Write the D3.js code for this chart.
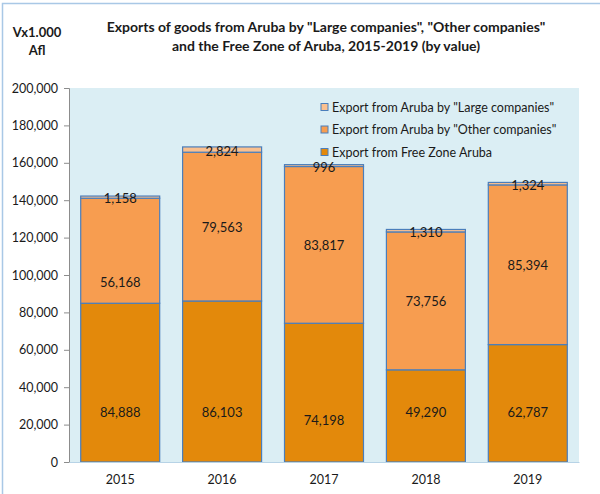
<!DOCTYPE html>
<html>
<head>
<meta charset="utf-8">
<script src="https://cdn.jsdelivr.net/npm/d3@7"></script>
<style>
  body { margin: 0; background: #fff; }
  svg { display: block; font-family: Lato, "Open Sans", sans-serif; }
</style>
</head>
<body>
<svg id="chart" width="600" height="494"></svg>
<script>
	// values in Afl x 1.000
	var years = ['2015', '2016', '2017', '2018', '2019'];
	var freeZone = [84888, 86103, 74198, 49290, 62787];
	var otherCompanies = [56168, 79563, 83817, 73756, 85394];
	var largeCompanies = [1158, 2824, 996, 1310, 1324];
	var yTicks = [0, 20000, 40000, 60000, 80000, 100000, 120000, 140000, 160000, 180000, 200000];

	var seriesNames = ['Export from Free Zone Aruba', 'Export from Aruba by "Other companies"', 'Export from Aruba by "Large companies"'];
	var colors = ['#e3890b', '#f79d50', '#fac08f'];

	// labels were hand placed in the original (value level where the text sits)
	var freeZoneLabelAt = [27000, 27000, 22500, 27000, 27000];
	var otherLabelAt = [96000, null, null, null, null];

	var svg = d3.select('#chart');
	var fmt = d3.format(',');

	var plot = { left: 69, right: 579, top: 88, bottom: 462 };

	// outer frame
	svg.append('rect')
		.attr('x', 2.5).attr('y', 3.5)
		.attr('width', 610).attr('height', 510)
		.attr('fill', 'none')
		.attr('stroke', '#a9c8e6')
		.attr('stroke-width', 1.5);

	svg.append('rect')
		.attr('x', plot.left).attr('y', plot.top)
		.attr('width', plot.right - plot.left).attr('height', plot.bottom - plot.top)
		.attr('fill', '#dbeef4');

	var x = d3.scaleBand()
		.domain(years)
		.range([plot.left, plot.right])
		.paddingInner(0.215)
		.paddingOuter(0.11);

	var y = d3.scaleLinear()
		.domain([0, 200000])
		.range([plot.bottom, plot.top]);

	var rows = years.map(function(yr, i){
		return { year: yr, fz: freeZone[i], other: otherCompanies[i], large: largeCompanies[i], i: i };
	});

	var stack = d3.stack().keys(['fz', 'other', 'large']);
	var layers = stack(rows);

	var g = svg.append('g');
	layers.forEach(function(layer, k){
		g.selectAll('rect.s' + k)
			.data(layer)
			.enter()
			.append('rect')
				.attr('x', (d) => x(d.data.year) + 0.5)
				.attr('y', (d) => y(d[1]))
				.attr('width', x.bandwidth() - 1)
				.attr('height', (d) => y(d[0]) - y(d[1]))
				.attr('fill', colors[k])
				.attr('stroke', '#4a7ebb')
				.attr('stroke-width', 1.2);
	});

	// data labels
	layers.forEach(function(layer, k){
		g.selectAll('text.l' + k)
			.data(layer)
			.enter()
			.append('text')
				.attr('x', (d) => x(d.data.year) + x.bandwidth() / 2)
				.attr('y', function(d){
					var v = (d[0] + d[1]) / 2;
					if (k === 0) v = freeZoneLabelAt[d.data.i];
					if (k === 1 && otherLabelAt[d.data.i] != null) v = otherLabelAt[d.data.i];
					return y(v) + (k === 2 ? 6 : 5);
				})
				.attr('text-anchor', 'middle')
				.attr('font-size', 13)
				.attr('fill', '#1a1a1a')
				.text((d) => fmt(d[1] - d[0]));
	});

	// y axis
	var yAxis = d3.axisLeft(y)
		.tickValues(yTicks)
		.tickFormat(fmt)
		.tickSize(5)
		.tickPadding(6);
	var ya = svg.append('g')
		.attr('transform', 'translate(' + plot.left + ',0)')
		.call(yAxis);
	ya.select('.domain').attr('stroke', '#8c8c8c');
	ya.selectAll('.tick line').attr('stroke', '#8c8c8c');
	ya.selectAll('.tick text')
		.attr('font-size', 12.5)
		.attr('font-family', 'Lato, sans-serif')
		.attr('fill', '#1a1a1a');

	// x axis
	var xAxis = d3.axisBottom(x).tickSize(0).tickPadding(13);
	var xa = svg.append('g')
		.attr('transform', 'translate(0,' + plot.bottom + ')')
		.call(xAxis);
	xa.select('.domain').attr('stroke', '#b7d3e6');
	xa.selectAll('.tick text')
		.attr('font-size', 12.5)
		.attr('font-family', 'Lato, sans-serif')
		.attr('fill', '#1a1a1a');

	// title
	var title = svg.append('text')
		.attr('text-anchor', 'middle')
		.attr('font-size', 14)
		.attr('font-weight', 'bold')
		.attr('fill', '#1a1a1a');
	title.append('tspan').attr('x', 326).attr('y', 32)
		.text('Exports of goods from Aruba by "Large companies", "Other companies"');
	title.append('tspan').attr('x', 326).attr('y', 51)
		.text('and the Free Zone of Aruba, 2015-2019 (by value)');

	var unit = svg.append('text')
		.attr('text-anchor', 'middle')
		.attr('font-size', 13)
		.attr('font-weight', 'bold')
		.attr('fill', '#1a1a1a');
	unit.append('tspan').attr('x', 37).attr('y', 37).text('Vx1.000');
	unit.append('tspan').attr('x', 37).attr('y', 55).text('Afl');

	// legend, reversed like the stack
	var legendOrder = [2, 1, 0];
	var lg = svg.append('g');
	legendOrder.forEach(function(k, j){
		var cy = 107 + j * 22.5;
		lg.append('rect')
			.attr('x', 321).attr('y', cy - 3.5)
			.attr('width', 7).attr('height', 7)
			.attr('fill', colors[k])
			.attr('stroke', '#4a7ebb')
			.attr('stroke-width', 1);
		lg.append('text')
			.attr('x', 332).attr('y', cy + 4.5)
			.attr('font-size', 12.5)
			.attr('fill', '#1a1a1a')
			.text(seriesNames[k]);
	});
</script>
</body>
</html>
